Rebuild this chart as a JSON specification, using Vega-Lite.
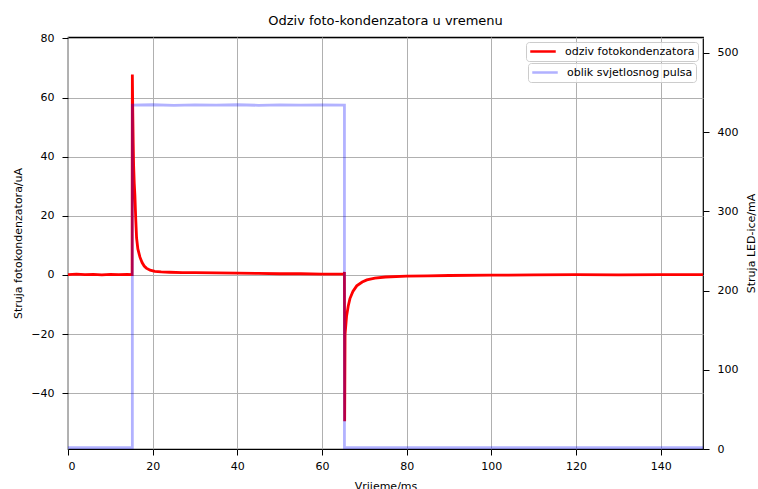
{
  "$schema": "https://vega.github.io/schema/vega-lite/v6.json",
  "autosize": {"type": "none"},
  "padding": {"left": 68, "top": 37, "right": 55, "bottom": 40},
  "width": 635,
  "height": 412,
  "background": "white",
  "title": {"text": "Odziv foto-kondenzatora u vremenu", "fontSize": 13, "font": "DejaVu Sans", "fontWeight": "normal", "color": "black", "offset": 4, "anchor": "middle"},
  "config": {
    "font": "DejaVu Sans",
    "view": {"stroke": "black", "strokeWidth": 1.2},
    "axis": {"labelFontSize": 11, "titleFontSize": 11, "titleFontWeight": "normal", "labelColor": "black", "titleColor": "black", "tickColor": "black", "tickSize": 6, "tickWidth": 1, "domain": false, "gridColor": "#b0b0b0", "gridWidth": 1, "gridOpacity": 1, "labelPadding": 5, "labelFont": "DejaVu Sans", "titleFont": "DejaVu Sans"},
    "axisY": {"labelPadding": 8},
    "legend": {"orient": "top-right", "offset": 5, "padding": 3, "strokeColor": "#cccccc", "fillColor": "rgba(255,255,255,0.8)", "cornerRadius": 3, "symbolType": "stroke", "symbolSize": 650, "symbolStrokeWidth": 2.5, "clipHeight": 13, "labelFontSize": 11, "labelColor": "black", "labelOffset": 8, "labelFont": "DejaVu Sans",
      "layout": {"direction": "vertical", "anchor": "end", "margin": 2, "center": true}}
  },
  "datasets": {
    "odziv": [
      {"n": 1, "t": 0, "v": 0.1}, {"n": 2, "t": 2, "v": 0.3}, {"n": 3, "t": 4, "v": 0.1}, {"n": 4, "t": 6, "v": 0.2},
      {"n": 5, "t": 8, "v": 0.0}, {"n": 6, "t": 10, "v": 0.2}, {"n": 7, "t": 12, "v": 0.1}, {"n": 8, "t": 14, "v": 0.2},
      {"n": 9, "t": 15.15, "v": 0.1}, {"n": 10, "t": 15.2, "v": 67.8}, {"n": 11, "t": 15.3, "v": 55}, {"n": 12, "t": 15.4, "v": 45},
      {"n": 13, "t": 15.5, "v": 37}, {"n": 14, "t": 15.65, "v": 31}, {"n": 15, "t": 15.8, "v": 27}, {"n": 16, "t": 16.0, "v": 19},
      {"n": 17, "t": 16.2, "v": 12.5}, {"n": 18, "t": 16.5, "v": 8.8}, {"n": 19, "t": 17.0, "v": 6}, {"n": 20, "t": 17.5, "v": 4.2},
      {"n": 21, "t": 18.0, "v": 3.0}, {"n": 22, "t": 18.5, "v": 2.3}, {"n": 23, "t": 19.4, "v": 1.6}, {"n": 24, "t": 20.5, "v": 1.2},
      {"n": 25, "t": 22, "v": 1.0}, {"n": 26, "t": 24, "v": 0.9}, {"n": 27, "t": 27, "v": 0.8}, {"n": 28, "t": 30, "v": 0.8},
      {"n": 29, "t": 35, "v": 0.7}, {"n": 30, "t": 40, "v": 0.6}, {"n": 31, "t": 45, "v": 0.5}, {"n": 32, "t": 50, "v": 0.4},
      {"n": 33, "t": 55, "v": 0.4}, {"n": 34, "t": 60, "v": 0.3}, {"n": 35, "t": 65.25, "v": 0.3}, {"n": 36, "t": 65.3, "v": 1.0},
      {"n": 37, "t": 65.35, "v": -49.5}, {"n": 38, "t": 65.45, "v": -20}, {"n": 39, "t": 65.8, "v": -14}, {"n": 40, "t": 66.2, "v": -10.5},
      {"n": 41, "t": 66.6, "v": -8}, {"n": 42, "t": 67.3, "v": -5.6}, {"n": 43, "t": 68.2, "v": -3.7}, {"n": 44, "t": 69.5, "v": -2.4},
      {"n": 45, "t": 70.6, "v": -1.7}, {"n": 46, "t": 72.5, "v": -1.1}, {"n": 47, "t": 75, "v": -0.7}, {"n": 48, "t": 80, "v": -0.4},
      {"n": 49, "t": 85, "v": -0.3}, {"n": 50, "t": 90, "v": -0.2}, {"n": 51, "t": 100, "v": -0.1}, {"n": 52, "t": 110, "v": 0.0},
      {"n": 53, "t": 120, "v": 0.1}, {"n": 54, "t": 130, "v": 0.0}, {"n": 55, "t": 140, "v": 0.1}, {"n": 56, "t": 150, "v": 0.1}
    ],
    "puls": [
      {"n": 1, "t": 0, "v": 1.8}, {"n": 2, "t": 15.2, "v": 1.8}, {"n": 3, "t": 15.2, "v": 434}, {"n": 4, "t": 20, "v": 434.5},
      {"n": 5, "t": 25, "v": 433.8}, {"n": 6, "t": 30, "v": 434.3}, {"n": 7, "t": 35, "v": 434}, {"n": 8, "t": 40, "v": 434.5},
      {"n": 9, "t": 45, "v": 433.8}, {"n": 10, "t": 50, "v": 434.3}, {"n": 11, "t": 55, "v": 434}, {"n": 12, "t": 60, "v": 434.4},
      {"n": 13, "t": 65.3, "v": 434}, {"n": 14, "t": 65.3, "v": 1.6}, {"n": 15, "t": 100, "v": 1.6}, {"n": 16, "t": 150, "v": 1.6}
    ]
  },
  "layer": [
    {
      "data": {"name": "odziv"},
      "mark": {"type": "line", "strokeWidth": 2.8, "clip": true},
      "encoding": {
        "x": {"field": "t", "type": "quantitative", "scale": {"domain": [0, 150], "nice": false, "zero": false},
              "axis": {"values": [0, 20, 40, 60, 80, 100, 120, 140], "title": "Vrijeme/ms", "titlePadding": 9, "grid": true}},
        "y": {"field": "v", "type": "quantitative", "scale": {"domain": [-58.9, 80.5], "nice": false, "zero": false},
              "axis": {"orient": "left", "values": [-40, -20, 0, 20, 40, 60, 80], "title": "Struja fotokondenzatora/uA", "titlePadding": 7, "grid": true}},
        "order": {"field": "n", "type": "quantitative"},
        "color": {"datum": "odziv fotokondenzatora", "type": "nominal", "scale": {"range": ["red"]}, "legend": {"title": null}}
      }
    },
    {
      "data": {"name": "puls"},
      "mark": {"type": "line", "strokeWidth": 2.8, "strokeOpacity": 0.3, "clip": true},
      "encoding": {
        "x": {"field": "t", "type": "quantitative"},
        "y": {"field": "v", "type": "quantitative", "scale": {"domain": [0, 520], "nice": false, "zero": false},
              "axis": {"orient": "right", "values": [0, 100, 200, 300, 400, 500], "title": "Struja LED-ice/mA", "titlePadding": 8, "titleAngle": 270, "titleBaseline": "top", "grid": false}},
        "order": {"field": "n", "type": "quantitative"},
        "color": {"datum": "oblik svjetlosnog pulsa", "type": "nominal", "scale": {"range": ["blue"]}, "legend": {"title": null, "symbolOpacity": 0.3}}
      }
    }
  ],
  "resolve": {"scale": {"y": "independent", "color": "independent"}, "legend": {"color": "independent"}}
}
